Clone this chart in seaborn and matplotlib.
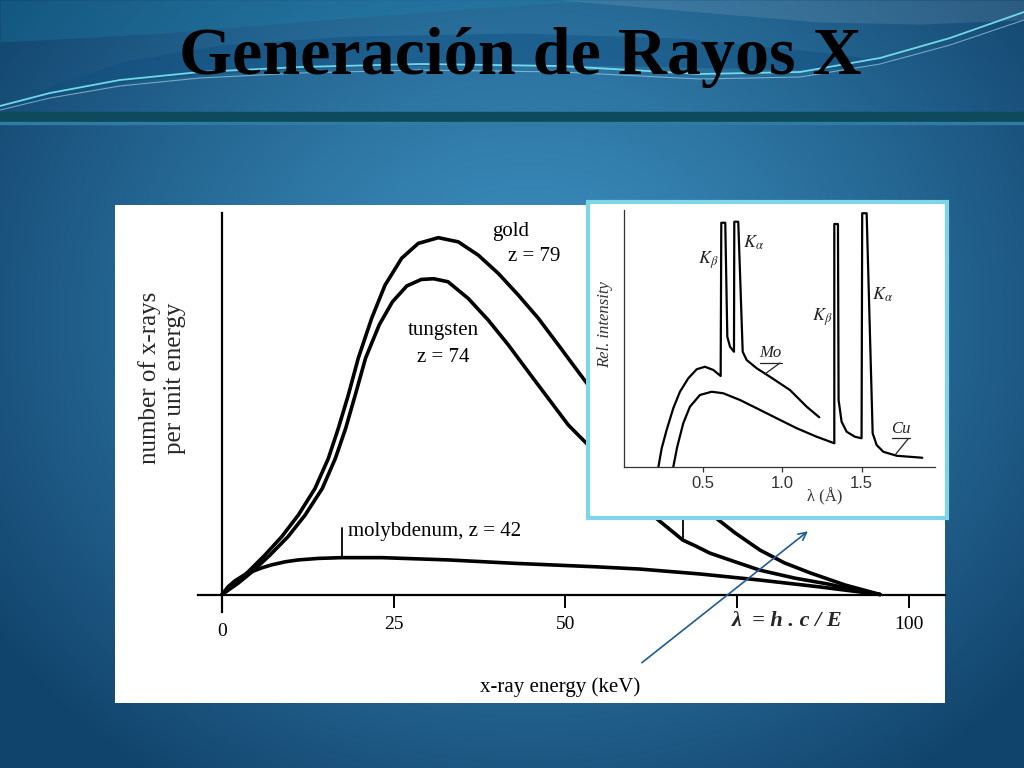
import numpy as np
import matplotlib
matplotlib.use("Agg")
import matplotlib.pyplot as plt
import matplotlib.transforms as mtransforms
from matplotlib.patches import Rectangle
import seaborn as sns

sns.set_theme(style="white")
plt.rcParams['font.family'] = ['Liberation Serif', 'DejaVu Serif']
plt.rcParams['mathtext.fontset'] = 'stix'

# Main chart: continuous spectra (x-ray energy in keV, relative counts)
gold_kev = [0, 1.89, 3.83, 6.26, 8.69, 11.11, 13.54, 15.48, 16.93, 18.39, 19.84,
            21.79, 23.73, 26.16, 28.57, 31.49, 34.40, 37.31, 40.22, 43.13, 46.04,
            48.95, 51.86, 53.32, 57.9, 62.3, 66.7, 71.0, 74.7, 78.3, 81.9, 85.6,
            90.7, 95.8]
gold_counts = [0, 2.9, 6.0, 10.4, 15.2, 20.9, 27.9, 35.8, 43.7, 52.5, 62.2,
               72.7, 81.4, 88.5, 92.4, 93.9, 92.8, 89.3, 84.5, 78.8, 72.7,
               65.7, 58.6, 55.1, 45.9, 35.4, 27.0, 21.4, 16.2, 11.7, 8.3, 5.7,
               2.5, 0]

tungsten_kev = [0, 2.3, 4.4, 7.0, 9.6, 12.1, 14.6, 16.5, 18.0, 19.4, 20.9,
                22.9, 24.8, 26.9, 29.0, 30.8, 32.9, 35.85, 38.76, 41.67,
                44.59, 47.50, 50.41, 53.32, 57.9, 62.3, 67.1, 68.9, 71.0, 74.7,
                78.3, 83.4, 88.1, 92.1, 95.8]
tungsten_counts = [0, 2.9, 6.0, 10.4, 15.2, 20.9, 27.9, 35.8, 43.7, 52.5, 62.2,
                   71.0, 77.0, 81.2, 82.9, 83.1, 82.3, 77.9, 72.2, 65.7,
                   58.6, 51.6, 44.6, 39.3, 28.8, 21.4, 14.3, 12.8, 10.9, 8.6,
                   6.4, 4.3, 2.8, 1.2, 0]

molybdenum_kev = [0, 0.92, 1.89, 3.11, 4.32, 5.78, 7.23, 9.17, 11.11, 14.02,
                  17.42, 23.24, 32.94, 42.65, 54.29, 60.8, 69.6, 78.3, 87.0, 95.8]
molybdenum_counts = [0, 2.1, 3.6, 5.0, 6.0, 7.0, 7.8, 8.6, 9.1, 9.5,
                     9.7, 9.7, 9.1, 8.2, 7.3, 6.7, 5.4, 3.8, 2.0, 0]

energy_ticks = [0, 25, 50, 75, 100]
energy_tick_labels = ['0', '25', '50', '', '100']

# Inset: Mo and Cu spectra vs wavelength (Angstrom)
mo_lambda = [0.217, 0.238, 0.269, 0.311, 0.353, 0.406, 0.459, 0.511, 0.564, 0.610,
             0.614, 0.639, 0.652, 0.669, 0.694, 0.696, 0.721, 0.749, 0.774, 0.837,
             0.921, 1.047, 1.153, 1.232]
mo_intensity = [0, 7.5, 14.8, 23.5, 30.1, 35.5, 39.1, 40.1, 38.8, 36.4,
                97.7, 97.7, 52.1, 48.1, 46.1, 98.1, 98.1, 46.1, 42.8, 39.5,
                36.1, 30.8, 24.1, 19.9]

cu_lambda = [0.311, 0.336, 0.374, 0.416, 0.479, 0.553, 0.626, 0.732, 0.837, 0.963,
             1.090, 1.216, 1.327, 1.327, 1.350, 1.354, 1.373, 1.405, 1.457, 1.499,
             1.503, 1.531, 1.569, 1.594, 1.636, 1.720, 1.882]
cu_intensity = [0, 8.1, 17.5, 24.1, 28.8, 30.1, 29.5, 26.8, 23.5, 19.5,
                15.5, 12.1, 9.5, 97.2, 97.2, 26.8, 18.1, 14.1, 12.1, 11.5,
                101.5, 101.5, 13.5, 8.8, 6.1, 4.5, 3.7]

wavelength_ticks = [0.5, 1.0, 1.5]
wavelength_tick_labels = ['0.5', '1.0', '1.5']

fig = plt.figure(figsize=(10.24, 7.68), dpi=100)

# Slide background
bg = fig.add_axes([0, 0, 1, 1])
H, W = 768, 1024
yy, xx = np.mgrid[0:H, 0:W]
d = np.clip(np.sqrt(((xx - 530) / 640) ** 2 + ((yy - 320) / 560) ** 2), 0, 1) ** 1.2
c_mid = np.array([0.24, 0.57, 0.76])
c_edge = np.array([0.07, 0.27, 0.43])
img = c_mid * (1 - d)[..., None] + c_edge * d[..., None]
bg.imshow(img, extent=(0, W, H, 0), aspect='auto')
bg.set_xlim(0, W)
bg.set_ylim(H, 0)
bg.axis('off')

# decorative swooshes in the title band
bg.fill_between([0, 150, 300, 450, 600], 0, [42, 34, 22, 10, 0],
                color='#1a8fb8', alpha=0.25, lw=0)
arch_x = [0, 60, 130, 220, 350, 520, 680, 820, 900]
arch_top = [112, 82, 60, 45, 36, 33, 38, 52, 62]
arch_bot = [112, 95, 81, 73, 67, 64, 67, 70, 62]
bg.fill_between(arch_x, arch_top, arch_bot, color='#0f4d7e', alpha=0.45, lw=0)
bg.fill_between([560, 700, 820, 920, 1024], [0, 0, 0, 0, 0], [0, 12, 22, 24, 20],
                color='white', alpha=0.10, lw=0)
wave_x = [0, 50, 120, 200, 300, 420, 560, 700, 800, 880, 950, 1024]
bg.plot(wave_x, [106, 93, 80, 72, 67, 64, 66, 74, 72, 58, 38, 12],
        color='#7ae6f2', lw=1.3, alpha=0.9)
bg.plot(wave_x, [110, 98, 86, 78, 73, 70, 72, 79, 77, 64, 45, 20],
        color='#a9dcef', lw=0.8, alpha=0.6)
bg.axhspan(112, 122, color='#0c4a5c')
bg.axhspan(122, 124, color='#2f7da3')

bg.text(520, 57, 'Generación de Rayos X', ha='center', va='center',
        fontsize=49, fontweight='bold', color='black',
        family=['Liberation Serif', 'DejaVu Serif'])

# Main panel
ax = fig.add_axes([115 / 1024, 1 - 703 / 768, 830 / 1024, 498 / 768])
ax.set_facecolor('white')
line_kw = dict(color='black', lw=2.6, sort=False, estimator=None, ax=ax)
sns.lineplot(x=gold_kev, y=gold_counts, **line_kw)
sns.lineplot(x=tungsten_kev, y=tungsten_counts, **line_kw)
sns.lineplot(x=molybdenum_kev, y=molybdenum_counts, **line_kw)
for ln in ax.lines:
    ln.set_solid_joinstyle('round')

ax.set_xlim(-15.57, 105.24)
ax.set_ylim(-28.55, 102.5)
for s in ['top', 'right']:
    ax.spines[s].set_visible(False)
ax.spines['left'].set_position(('data', 0))
ax.spines['bottom'].set_position(('data', 0))
ax.spines['left'].set_bounds(-4.5, 100.5)
ax.spines['bottom'].set_bounds(-3.5, 105.24)
for s in ['left', 'bottom']:
    ax.spines[s].set_color('black')
    ax.spines[s].set_linewidth(1.6)
ax.set_yticks([])
ax.set_xticks(energy_ticks, labels=energy_tick_labels)
ax.tick_params(axis='x', direction='out', length=9.5, width=1.4, labelsize=14,
               pad=6, bottom=True, colors='black')
for lab in ax.get_xticklabels():
    if lab.get_text() == '0':
        lab.set_transform(lab.get_transform() +
                          mtransforms.ScaledTranslation(0, -5 / 72, fig.dpi_scale_trans))

# marker lines at Mo peak and W kink
ax.plot([17.42, 17.42], [9.7, 17.6], color='black', lw=1.3)
ax.plot([67.1, 67.1], [14.3, 25.0], color='black', lw=1.3)

txt = dict(fontsize=15, color='black')
ax.text(39.3, 95.5, 'gold', ha='left', va='center', **txt)
ax.text(41.6, 88.9, 'z = 79', ha='left', va='center', **txt)
ax.text(32.2, 69.5, 'tungsten', ha='center', va='center', **txt)
ax.text(32.2, 62.4, 'z = 74', ha='center', va='center', **txt)
ax.text(18.3, 16.6, 'molybdenum, z = 42', ha='left', va='center', **txt)
ax.text(49.2, -24.5, 'x-ray energy (keV)', ha='center', va='center', **txt)
ax.text(-8.7, 57.0, 'number of x-rays\nper unit energy', ha='center', va='center',
        rotation=90, fontsize=18, linespacing=1.2)
ax.text(74.2, -7.1, 'λ  = h . c / E', ha='left', va='center', fontsize=16,
        fontweight='bold', style='italic')

ax.annotate('', xy=(85.6, 17.1), xytext=(60.8, -18.4),
            arrowprops=dict(arrowstyle='->', color='#1d5c96', lw=1.2,
                            mutation_scale=14), annotation_clip=False)

# Inset
ax_in = fig.add_axes([588 / 1024, 1 - 518 / 768, 359 / 1024, 316 / 768])
ax_in.set_facecolor('white')
in_kw = dict(color='black', lw=1.6, sort=False, estimator=None, ax=ax_in)
sns.lineplot(x=mo_lambda, y=mo_intensity, **in_kw)
sns.lineplot(x=cu_lambda, y=cu_intensity, **in_kw)
ax_in.set_xlim(-0.227, 2.038)
ax_in.set_ylim(-20.4, 106)
for s in ['top', 'right']:
    ax_in.spines[s].set_visible(False)
ax_in.spines['left'].set_position(('data', 0))
ax_in.spines['bottom'].set_position(('data', 0))
ax_in.spines['left'].set_bounds(0, 102.8)
ax_in.spines['bottom'].set_bounds(0, 1.962)
for s in ['left', 'bottom']:
    ax_in.spines[s].set_color('#333333')
    ax_in.spines[s].set_linewidth(0.9)
ax_in.set_yticks([])
ax_in.set_xticks(wavelength_ticks, labels=wavelength_tick_labels)
ax_in.tick_params(axis='x', direction='out', length=3.5, width=0.9, labelsize=12,
                  pad=3, bottom=True, colors='#333333')
for lab in ax_in.get_xticklabels():
    lab.set_family(['Liberation Sans', 'DejaVu Sans'])

ax_in.text(1.268, -12, 'λ (Å)', ha='center', va='center', fontsize=12, color='#333333')
ax_in.text(-0.12, 56.8, 'Rel. intensity', ha='center', va='center', rotation=90,
           fontsize=12, style='italic', color='#333333')
k_kw = dict(ha='center', va='center', fontsize=13, color='#222222')
ax_in.text(0.530, 82.8, r'$K_{\beta}$', **k_kw)
ax_in.text(0.814, 89.6, r'$K_{\alpha}$', **k_kw)
ax_in.text(1.249, 60.0, r'$K_{\beta}$', **k_kw)
ax_in.text(1.628, 68.8, r'$K_{\alpha}$', **k_kw)
ax_in.text(0.921, 45.6, 'Mo', ha='center', va='center', fontsize=12, style='italic',
           color='#222222')
ax_in.text(1.748, 15.2, 'Cu', ha='center', va='center', fontsize=12, style='italic',
           color='#222222')
ax_in.plot([0.858, 0.997], [41.6, 41.6], color='#222222', lw=0.9)
ax_in.plot([0.984, 0.889], [41.6, 37.2], color='#222222', lw=0.9)
ax_in.plot([1.691, 1.804], [11.6, 11.6], color='#222222', lw=0.9)
ax_in.plot([1.792, 1.710], [11.2, 4.8], color='#222222', lw=0.9)

ax_in.add_patch(Rectangle((0, 0), 1, 1, transform=ax_in.transAxes, fill=False,
                          edgecolor='#7fd4e8', lw=3.0, clip_on=False, zorder=10))

fig.savefig('out.png', dpi=100)
